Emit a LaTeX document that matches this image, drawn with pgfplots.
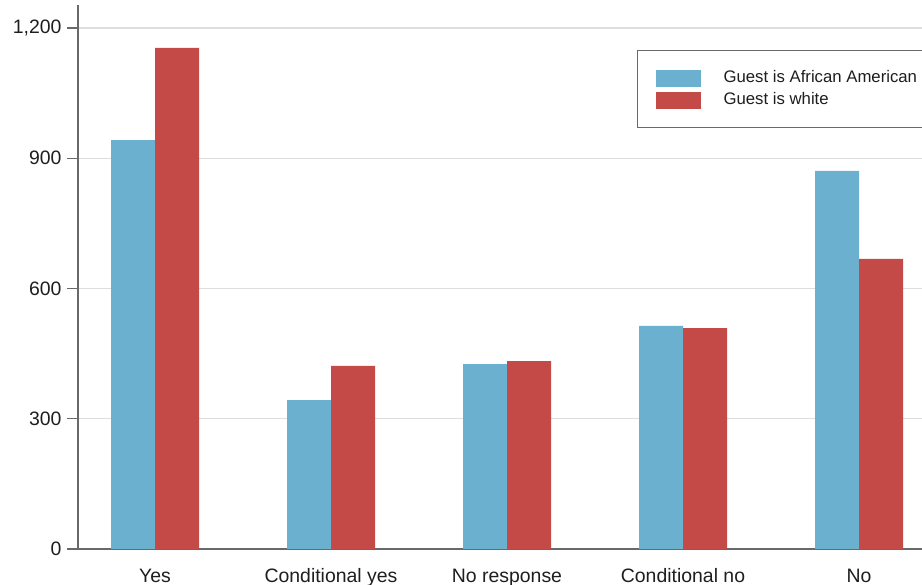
\documentclass[border=0pt]{standalone}
\usepackage{pgfplots}
\pgfplotsset{compat=1.18}
\usepackage{fontspec}
\setmainfont{Liberation Sans}
\definecolor{cblue}{RGB}{108,176,208}
\definecolor{cred}{RGB}{196,74,71}
\definecolor{axisgray}{RGB}{105,105,105}
\definecolor{gridgray}{RGB}{222,222,222}
\definecolor{txt}{RGB}{30,30,30}
\begin{document}
\begin{tikzpicture}
\begin{axis}[
  at={(0,0)}, anchor=south west,
  x=176bp, y=0.43417bp,
  xmin=-0.4375, xmax=4.6, ymin=0, ymax=1253,
  set layers=standard,
  axis x line*=bottom, axis y line*=left,
  axis line style={axisgray, line width=1.6bp},
  every outer x axis line/.append style={on layer=axis foreground},
  ybar=0pt, bar width=44bp,
  ymajorgrids, grid style={gridgray, line width=1.4bp},
  ytick={0,300,600,900,1200}, yticklabels={0,300,600,900,{1,200}},
  xtick={0,1,2,3,4}, xticklabels={Yes, Conditional yes, No response, Conditional no, No},
  x tick style={draw=none},
  y tick style={axisgray, line width=1.4bp},
  tick align=outside, major tick length=11bp,
  ticklabel style={font=\fontsize{19.5}{22}\selectfont, text=txt},
  yticklabel style={xshift=-2bp},
  xticklabel style={text height=14bp, text depth=4bp, yshift=-5bp},
  legend style={at={(0.6305,0.9172)}, anchor=north west, draw=axisgray, line width=1.2bp,
    font=\fontsize{16.8}{20}\selectfont, text=txt, inner xsep=18bp, inner ysep=19bp,
    row sep=5bp, nodes={inner sep=0pt, text height=12bp, text depth=3.5bp},
    /tikz/every odd column/.append style={column sep=23bp}},
  legend cell align=left,
]
\addplot[fill=cblue, draw=none, legend image code/.code={\fill[cblue] (0bp,-8.5bp) rectangle (45bp,8.5bp);}]
  coordinates {(0,942) (1,343) (2,426) (3,514) (4,871)};
\addplot[fill=cred, draw=none, legend image code/.code={\fill[cred] (0bp,-8.5bp) rectangle (45bp,8.5bp);}]
  coordinates {(0,1154) (1,422) (2,433) (3,509) (4,668)};
\legend{Guest is African American, Guest is white}
\end{axis}
\pgfresetboundingbox
\useasboundingbox (-78bp,-36bp) rectangle (844bp,549bp);
\end{tikzpicture}
\end{document}
